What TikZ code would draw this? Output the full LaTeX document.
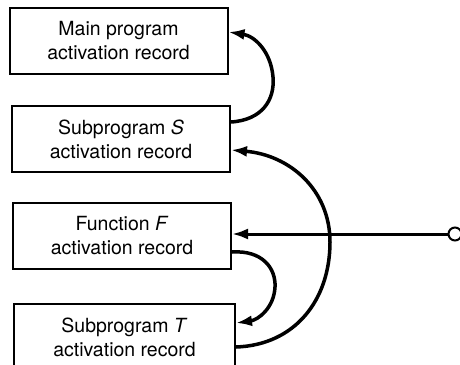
\documentclass[tikz,border=0pt]{standalone}
\usepackage{fontspec}
\setmainfont{TeX Gyre Heros}
\usetikzlibrary{arrows.meta}
\begin{document}
\begin{tikzpicture}[x=1pt,y=-1pt,
  rec/.style={draw, line width=2pt, minimum width=218pt, minimum height=66pt, inner sep=0pt,
    align=center, font=\fontsize{19.5}{24}\selectfont},
  link/.style={line width=3.5pt, -{Latex[length=16pt,width=11pt]}}]
\useasboundingbox (0,0) rectangle (460,364);
\node[rec] (M) at (118.5,41) {Main program\\activation record};
\node[rec] (S) at (121,139) {Subprogram \textit{S}\\activation record};
\node[rec] (F) at (122,236) {Function \textit{F}\\activation record};
\node[rec, minimum width=221pt] (T) at (124.5,337) {Subprogram \textit{T}\\activation record};
\node[draw, circle, line width=2pt, minimum size=13pt, inner sep=0pt] (C) at (455,234) {};
% S -> Main
\draw[link] (S.east |- 0,122) .. controls (262,120) and (275,100) .. (273,77)
  .. controls (271,52) and (255,36) .. (M.east |- 0,32);
% T -> S
\draw[link] (T.east |- 0,347) .. controls (295,345) and (330,300) .. (330,242)
  .. controls (330,190) and (290,155) .. (S.east |- 0,150);
% F -> T
\draw[link] (F.east |- 0,252) .. controls (262,250) and (276,268) .. (275,287)
  .. controls (274,308) and (258,320) .. (T.east |- 0,323);
% circle -> F
\draw[link, line width=3pt] (C.west) -- (F.east |- C.west);
\end{tikzpicture}
\end{document}
